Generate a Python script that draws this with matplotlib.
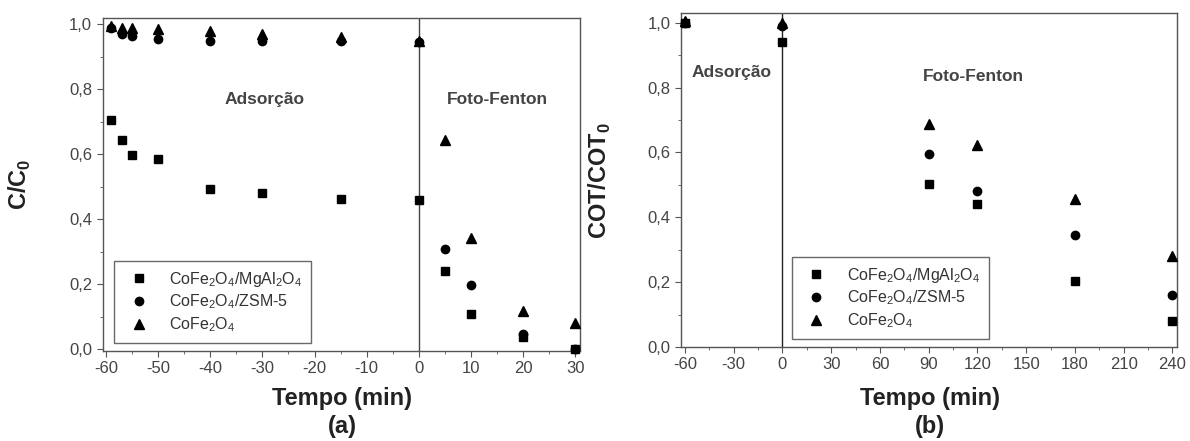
import matplotlib
matplotlib.use("Agg")
import matplotlib.pyplot as plt
from matplotlib.ticker import MultipleLocator, FuncFormatter

plt.rcParams["font.family"] = ["Liberation Sans", "DejaVu Sans"]
plt.rcParams["mathtext.fontset"] = "custom"
plt.rcParams["mathtext.rm"] = "Liberation Sans"
plt.rcParams["mathtext.bf"] = "Liberation Sans:bold"
plt.rcParams["axes.unicode_minus"] = False

# (a) dye removal, C/C0
t_a = [-59, -57, -55, -50, -40, -30, -15, 0, 5, 10, 20, 30]
mgal_a = [0.705, 0.645, 0.597, 0.585, 0.495, 0.48, 0.463, 0.459, 0.24, 0.109, 0.038, 0.001]
zsm_a = [0.99, 0.97, 0.965, 0.955, 0.95, 0.95, 0.95, 0.945, 0.31, 0.197, 0.046, 0.0]
cofe_a = [0.995, 0.99, 0.99, 0.985, 0.98, 0.97, 0.96, 0.95, 0.644, 0.342, 0.118, 0.081]

# (b) TOC removal, COT/COT0
t_b = [-60, 0, 90, 120, 180, 240]
mgal_b = [1.0, 0.94, 0.504, 0.44, 0.204, 0.079]
zsm_b = [1.0, 0.99, 0.594, 0.481, 0.344, 0.16]
cofe_b = [1.005, 1.0, 0.687, 0.622, 0.455, 0.28]

labels = [r"CoFe$_2$O$_4$/MgAl$_2$O$_4$", r"CoFe$_2$O$_4$/ZSM-5", r"CoFe$_2$O$_4$"]
markers = ["s", "o", "^"]
sizes = [6, 6, 7.5]

comma = FuncFormatter(lambda v, p: f"{v:.1f}".replace(".", ","))
txtc = "#333333"
W, H = 1190, 441


def style_axes(ax):
    for s in ax.spines.values():
        s.set_color("#555555")
        s.set_linewidth(1.0)
    ax.tick_params(which="both", direction="out", colors="#555555",
                   labelcolor="#444444", labelsize=12)
    ax.tick_params(which="major", length=4)
    ax.tick_params(which="minor", length=2.5)
    ax.yaxis.set_major_locator(MultipleLocator(0.2))
    ax.yaxis.set_minor_locator(MultipleLocator(0.1))
    ax.yaxis.set_major_formatter(comma)


def add_legend(ax, x_px, y_px):
    leg = ax.legend(loc="upper left", bbox_to_anchor=(x_px / W, 1 - y_px / H),
                    bbox_transform=fig.transFigure, borderaxespad=0, fontsize=11.5,
                    frameon=True, fancybox=False, edgecolor="#444444",
                    handletextpad=0.9, labelspacing=0.25, borderpad=0.55)
    for t in leg.get_texts():
        t.set_color(txtc)


fig = plt.figure(figsize=(11.9, 4.41), dpi=100)

# ---- panel (a)
ax1 = fig.add_axes([102.6 / W, 1 - 351 / H, 477.2 / W, 333 / H])
for y, m, ms, lab in zip([mgal_a, zsm_a, cofe_a], markers, sizes, labels):
    ax1.plot(t_a, y, linestyle="none", marker=m, markersize=ms, color="black",
             label=lab, clip_on=False, zorder=3)
ax1.axvline(0, color="#444444", linewidth=1.0)
ax1.set_xlim(-60.65, 30.88)
ax1.set_ylim(-0.005, 1.02)
ax1.xaxis.set_major_locator(MultipleLocator(10))
ax1.xaxis.set_minor_locator(MultipleLocator(5))
style_axes(ax1)
ax1.text(-29.5, 0.77, "Adsorção", ha="center", va="center", fontsize=12.5,
         fontweight="bold", color="#444444")
ax1.text(15.1, 0.77, "Foto-Fenton", ha="center", va="center", fontsize=12.5,
         fontweight="bold", color="#444444")
ax1.set_ylabel(r"C/C$_\mathbf{0}$", fontsize=17, fontweight="bold", color="#222222")
ax1.yaxis.set_label_coords(-0.146, 0.5)
fig.text(342 / W, 1 - 399 / H, "Tempo (min)", ha="center", va="center", fontsize=17,
         fontweight="bold", color="#222222")
fig.text(342 / W, 1 - 426 / H, "(a)", ha="center", va="center", fontsize=17,
         fontweight="bold", color="#222222")
add_legend(ax1, 114, 261)

# ---- panel (b)
ax2 = fig.add_axes([681.1 / W, 1 - 347 / H, 495.6 / W, 333.7 / H])
for y, m, ms, lab in zip([mgal_b, zsm_b, cofe_b], markers, sizes, labels):
    ax2.plot(t_b, y, linestyle="none", marker=m, markersize=ms, color="black",
             label=lab, clip_on=False, zorder=3)
ax2.axvline(0, color="#222222", linewidth=1.0)
ax2.set_xlim(-62.3, 242.6)
ax2.set_ylim(0.0, 1.029)
ax2.xaxis.set_major_locator(MultipleLocator(30))
ax2.xaxis.set_minor_locator(MultipleLocator(15))
style_axes(ax2)
ax2.text(-31.3, 0.846, "Adsorção", ha="center", va="center", fontsize=12.5,
         fontweight="bold", color="#444444")
ax2.text(117.8, 0.833, "Foto-Fenton", ha="center", va="center", fontsize=12.5,
         fontweight="bold", color="#444444")
ax2.set_ylabel(r"COT/COT$_\mathbf{0}$", fontsize=17, fontweight="bold", color="#222222")
ax2.yaxis.set_label_coords(-0.138, 0.5)
fig.text(930 / W, 1 - 399 / H, "Tempo (min)", ha="center", va="center", fontsize=17,
         fontweight="bold", color="#222222")
fig.text(930 / W, 1 - 426 / H, "(b)", ha="center", va="center", fontsize=17,
         fontweight="bold", color="#222222")
add_legend(ax2, 791.7, 257)

fig.savefig("out.png", dpi=100)
